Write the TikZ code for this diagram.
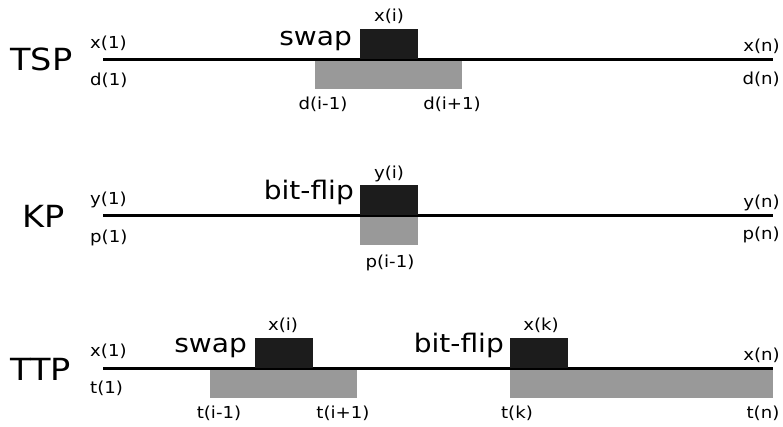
\documentclass[tikz,border=0pt]{standalone}
\usepackage{fontspec}
\setmainfont[FakeStretch=1.1]{DejaVu Sans}
\usetikzlibrary{positioning}
\definecolor{genefill}{HTML}{1C1C1C}
\definecolor{costfill}{HTML}{999999}

\begin{document}
\begin{tikzpicture}[x=1pt,y=-1pt,
  chrom/.style={line width=3pt},
  gene/.style={fill=genefill,inner sep=0pt,minimum height=30pt,minimum width=58pt,anchor=south west},
  cost/.style={fill=costfill,inner sep=0pt,minimum height=29pt,anchor=north west},
  idx/.style={font=\fontsize{16.5}{17}\selectfont,inner sep=0pt,anchor=base},
  op/.style={font=\fontsize{25.5}{26}\selectfont,inner sep=0pt,anchor=base east},
  prob/.style={font=\fontsize{30.5}{31}\selectfont,inner sep=0pt,anchor=base west}]
\useasboundingbox (0,0) rectangle (783,426);

% TSP
\node [prob] (tsp) at (10,70) {TSP};
\node [cost,minimum width=147pt] (tspD) at (315,60) {};
\coordinate (tspStart) at (103,59);
\coordinate (tspEnd) at (773,59);
\draw [chrom] (tspStart) -- (tspEnd);
\node [gene] (tspX) at (360,59) {};
\node [op] (tspOp) at (352,45) {swap};
\node [idx] (tspXi) at (389,21) {x(i)};
\node [idx,anchor=base west] (tspX1) at (90,48) {x(1)};
\node [idx,anchor=base west] (tspD1) at (90,85) {d(1)};
\node [idx,anchor=base east] (tspXn) at (780,51) {x(n)};
\node [idx,anchor=base east] (tspDn) at (780,84) {d(n)};
\node [idx] (tspDa) at (323,109) {d(i-1)};
\node [idx] (tspDb) at (452,109) {d(i+1)};

% KP
\node [prob] (kp) at (22,227) {KP};
\node [cost,minimum width=58pt] (kpP) at (360,216) {};
\coordinate (kpStart) at (103,215);
\coordinate (kpEnd) at (773,215);
\draw [chrom] (kpStart) -- (kpEnd);
\node [gene] (kpY) at (360,215) {};
\node [op] (kpOp) at (354,199) {bit-flip};
\node [idx] (kpYi) at (389,178) {y(i)};
\node [idx,anchor=base west] (kpY1) at (90,204) {y(1)};
\node [idx,anchor=base west] (kpP1) at (90,242) {p(1)};
\node [idx,anchor=base east] (kpYn) at (780,207) {y(n)};
\node [idx,anchor=base east] (kpPn) at (780,239) {p(n)};
\node [idx] (kpPa) at (390,267) {p(i-1)};

% TTP
\node [prob] (ttp) at (10,380) {TTP};
\node [cost,minimum width=147pt] (ttpT) at (210,369) {};
\node [cost,minimum width=263pt] (ttpK) at (510,369) {};
\coordinate (ttpStart) at (103,368);
\coordinate (ttpEnd) at (773,368);
\draw [chrom] (ttpStart) -- (ttpEnd);
\node [gene] (ttpX) at (255,368) {};
\node [gene] (ttpXk) at (510,368) {};
\node [op] (ttpSwap) at (247,352) {swap};
\node [op] (ttpFlip) at (504,352) {bit-flip};
\node [idx] (ttpXi) at (283,330) {x(i)};
\node [idx] (ttpXkl) at (541,330) {x(k)};
\node [idx,anchor=base west] (ttpX1) at (90,356) {x(1)};
\node [idx,anchor=base west] (ttpT1) at (90,393) {t(1)};
\node [idx,anchor=base east] (ttpXn) at (780,360) {x(n)};
\node [idx] (ttpTa) at (219,418) {t(i-1)};
\node [idx] (ttpTb) at (343,418) {t(i+1)};
\node [idx] (ttpTk) at (517,418) {t(k)};
\node [idx] (ttpTn) at (763,418) {t(n)};
\end{tikzpicture}
\end{document}
